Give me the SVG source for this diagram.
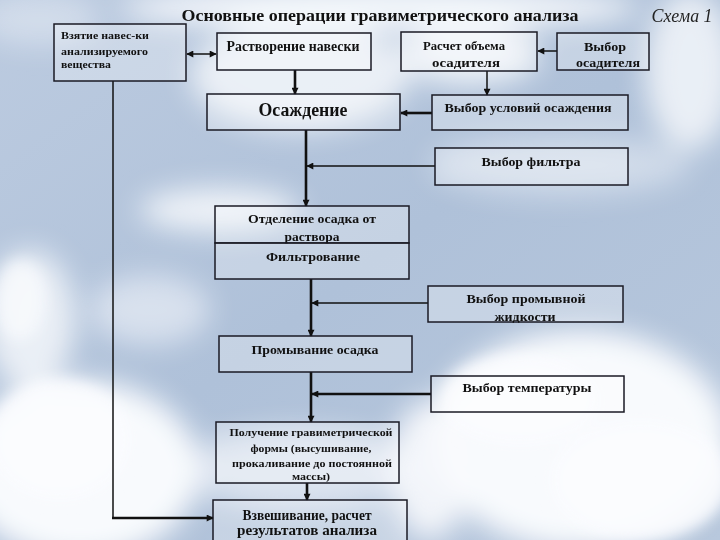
<svg xmlns="http://www.w3.org/2000/svg" width="720" height="540" viewBox="0 0 720 540">
<defs>
<linearGradient id="sky" x1="0" y1="0" x2="1" y2="1">
<stop offset="0" stop-color="#bccbe0"/>
<stop offset="0.5" stop-color="#afc1d9"/>
<stop offset="1" stop-color="#b8c8dd"/>
</linearGradient>
<filter id="blur" x="-30%" y="-30%" width="160%" height="160%"><feGaussianBlur stdDeviation="14"/></filter>
<filter id="blur2" x="-30%" y="-30%" width="160%" height="160%"><feGaussianBlur stdDeviation="7"/></filter>
<marker id="ah" viewBox="0 0 10 10" refX="9" refY="5" markerWidth="8" markerHeight="7" markerUnits="userSpaceOnUse" orient="auto-start-reverse">
<path d="M0,0 L10,5 L0,10 z" fill="#111"/>
</marker>
<style>
.box{fill:#ffffff;fill-opacity:0.28;stroke:#1a1a24;stroke-width:1.5}
.t{font-family:"Liberation Serif","Times New Roman",serif;font-weight:bold;fill:#111;text-anchor:middle}
.s13{font-size:14px}
.s12{font-size:13px}
.s10{font-size:11px}
.thin{stroke:#111;stroke-width:1.5;fill:none}
.thick{stroke:#111;stroke-width:2.6;fill:none}
</style>
</defs>

<g id="background">
<rect width="720" height="540" fill="url(#sky)"/>
<g filter="url(#blur)" fill="#f8fafd">
<ellipse cx="380" cy="8" rx="260" ry="22" opacity="0.95"/>
<ellipse cx="300" cy="75" rx="110" ry="55" opacity="0.8"/>
<ellipse cx="470" cy="55" rx="70" ry="30" opacity="0.85"/>
<ellipse cx="690" cy="70" rx="45" ry="80" opacity="0.8"/>
<ellipse cx="560" cy="165" rx="130" ry="30" opacity="0.45"/>
<ellipse cx="220" cy="210" rx="80" ry="22" opacity="0.85"/>
<ellipse cx="30" cy="320" rx="45" ry="70" opacity="0.8"/>
<ellipse cx="150" cy="310" rx="60" ry="35" opacity="0.55"/>
<ellipse cx="580" cy="440" rx="150" ry="110" opacity="1"/>
<ellipse cx="430" cy="470" rx="40" ry="70" opacity="0.9"/>
<ellipse cx="80" cy="470" rx="120" ry="90" opacity="1"/>
<ellipse cx="300" cy="470" rx="120" ry="40" opacity="0.6"/>
<ellipse cx="40" cy="20" rx="60" ry="25" opacity="0.4"/>
</g>
<g filter="url(#blur2)" fill="#fbfcfe">
<ellipse cx="520" cy="400" rx="80" ry="45" opacity="0.9"/>
<ellipse cx="640" cy="480" rx="90" ry="60" opacity="0.9"/>
<ellipse cx="60" cy="440" rx="70" ry="60" opacity="0.9"/>
<ellipse cx="20" cy="300" rx="25" ry="40" opacity="0.7"/>
</g>
</g>

<g id="title">
<text x="380" y="21" class="t" style="font-size:16px" textLength="397" lengthAdjust="spacingAndGlyphs">Основные операции гравиметрического анализа</text>
<text x="682" y="22" style="font-family:'Liberation Serif','Times New Roman',serif;font-style:italic;font-size:18px;fill:#222;text-anchor:middle" textLength="61" lengthAdjust="spacingAndGlyphs">Схема 1</text>
</g>

<g id="connectors">
<line class="thin" x1="187" y1="54" x2="216" y2="54" marker-start="url(#ah)" marker-end="url(#ah)"/>
<line class="thick" x1="295" y1="70" x2="295" y2="94" marker-end="url(#ah)"/>
<line class="thin" x1="487" y1="71" x2="487" y2="95" marker-end="url(#ah)"/>
<line class="thin" x1="557" y1="51" x2="538" y2="51" marker-end="url(#ah)"/>
<line class="thick" x1="432" y1="113" x2="401" y2="113" marker-end="url(#ah)"/>
<line class="thick" x1="306" y1="130" x2="306" y2="206" marker-end="url(#ah)"/>
<line class="thin" x1="435" y1="166" x2="307" y2="166" marker-end="url(#ah)"/>
<line class="thick" x1="311" y1="279" x2="311" y2="336" marker-end="url(#ah)"/>
<line class="thin" x1="428" y1="303" x2="312" y2="303" marker-end="url(#ah)"/>
<line class="thick" x1="311" y1="372" x2="311" y2="422" marker-end="url(#ah)"/>
<line class="thick" x1="431" y1="394" x2="312" y2="394" marker-end="url(#ah)"/>
<line class="thick" x1="307" y1="483" x2="307" y2="500" marker-end="url(#ah)"/>
<line class="thin" x1="113" y1="81" x2="113" y2="518"/>
<line class="thick" x1="112" y1="518" x2="213" y2="518" marker-end="url(#ah)"/>
</g>

<g id="n-vzyatie">
<rect class="box" x="54" y="24" width="132" height="57"/>
<text class="t s10" x="61" y="39" style="text-anchor:start" textLength="88" lengthAdjust="spacingAndGlyphs">Взятие навес-ки</text>
<text class="t s10" x="61" y="55" style="text-anchor:start" textLength="87" lengthAdjust="spacingAndGlyphs">анализируемого</text>
<text class="t s10" x="61" y="68" style="text-anchor:start" textLength="50" lengthAdjust="spacingAndGlyphs">вещества</text>
</g>

<g id="n-rastvorenie">
<rect class="box" x="217" y="33" width="154" height="37"/>
<text class="t s13" x="293" y="51" textLength="133" lengthAdjust="spacingAndGlyphs">Растворение навески</text>
</g>

<g id="n-raschet">
<rect class="box" x="401" y="32" width="136" height="39"/>
<text class="t s12" x="464" y="50" textLength="82" lengthAdjust="spacingAndGlyphs">Расчет объема</text>
<text class="t s12" x="466" y="67" textLength="68" lengthAdjust="spacingAndGlyphs">осадителя</text>
</g>

<g id="n-vybor-osaditelya">
<rect class="box" x="557" y="33" width="92" height="37"/>
<text class="t s12" x="605" y="51" textLength="42" lengthAdjust="spacingAndGlyphs">Выбор</text>
<text class="t s12" x="608" y="67" textLength="64" lengthAdjust="spacingAndGlyphs">осадителя</text>
</g>

<g id="n-osazhdenie">
<rect class="box" x="207" y="94" width="193" height="36"/>
<text class="t" x="303" y="116" style="font-size:18px" textLength="89" lengthAdjust="spacingAndGlyphs">Осаждение</text>
</g>

<g id="n-usloviya">
<rect class="box" x="432" y="95" width="196" height="35"/>
<text class="t s12" x="528" y="112" textLength="167" lengthAdjust="spacingAndGlyphs">Выбор условий осаждения</text>
</g>

<g id="n-filtr">
<rect class="box" x="435" y="148" width="193" height="37"/>
<text class="t s12" x="531" y="166" textLength="99" lengthAdjust="spacingAndGlyphs">Выбор фильтра</text>
</g>

<g id="n-otdelenie">
<rect class="box" x="215" y="206" width="194" height="37"/>
<text class="t s12" x="312" y="223" textLength="128" lengthAdjust="spacingAndGlyphs">Отделение осадка от</text>
<text class="t s12" x="312" y="241" textLength="55" lengthAdjust="spacingAndGlyphs">раствора</text>
</g>

<g id="n-filtrovanie">
<rect class="box" x="215" y="243" width="194" height="36"/>
<text class="t s12" x="313" y="261" textLength="94" lengthAdjust="spacingAndGlyphs">Фильтрование</text>
</g>

<g id="n-promyvnaya">
<rect class="box" x="428" y="286" width="195" height="36"/>
<text class="t s12" x="526" y="303" textLength="119" lengthAdjust="spacingAndGlyphs">Выбор промывной</text>
<text class="t s12" x="525" y="321" textLength="61" lengthAdjust="spacingAndGlyphs">жидкости</text>
</g>

<g id="n-promyvanie">
<rect class="box" x="219" y="336" width="193" height="36"/>
<text class="t s12" x="315" y="354" textLength="127" lengthAdjust="spacingAndGlyphs">Промывание осадка</text>
</g>

<g id="n-temperatura">
<rect class="box" x="431" y="376" width="193" height="36"/>
<text class="t s12" x="527" y="392" textLength="129" lengthAdjust="spacingAndGlyphs">Выбор температуры</text>
</g>

<g id="n-poluchenie">
<rect class="box" x="216" y="422" width="183" height="61"/>
<text class="t s10" x="311" y="436" textLength="163" lengthAdjust="spacingAndGlyphs">Получение гравиметрической</text>
<text class="t s10" x="311" y="452" textLength="121" lengthAdjust="spacingAndGlyphs">формы (высушивание,</text>
<text class="t s10" x="312" y="467" textLength="160" lengthAdjust="spacingAndGlyphs">прокаливание до постоянной</text>
<text class="t s10" x="311" y="480" textLength="38" lengthAdjust="spacingAndGlyphs">массы)</text>
</g>

<g id="n-vzveshivanie">
<rect class="box" x="213" y="500" width="194" height="46"/>
<text class="t s13" x="307" y="520" textLength="129" lengthAdjust="spacingAndGlyphs">Взвешивание, расчет</text>
<text class="t s13" x="307" y="535" textLength="140" lengthAdjust="spacingAndGlyphs">результатов анализа</text>
</g>
</svg>
